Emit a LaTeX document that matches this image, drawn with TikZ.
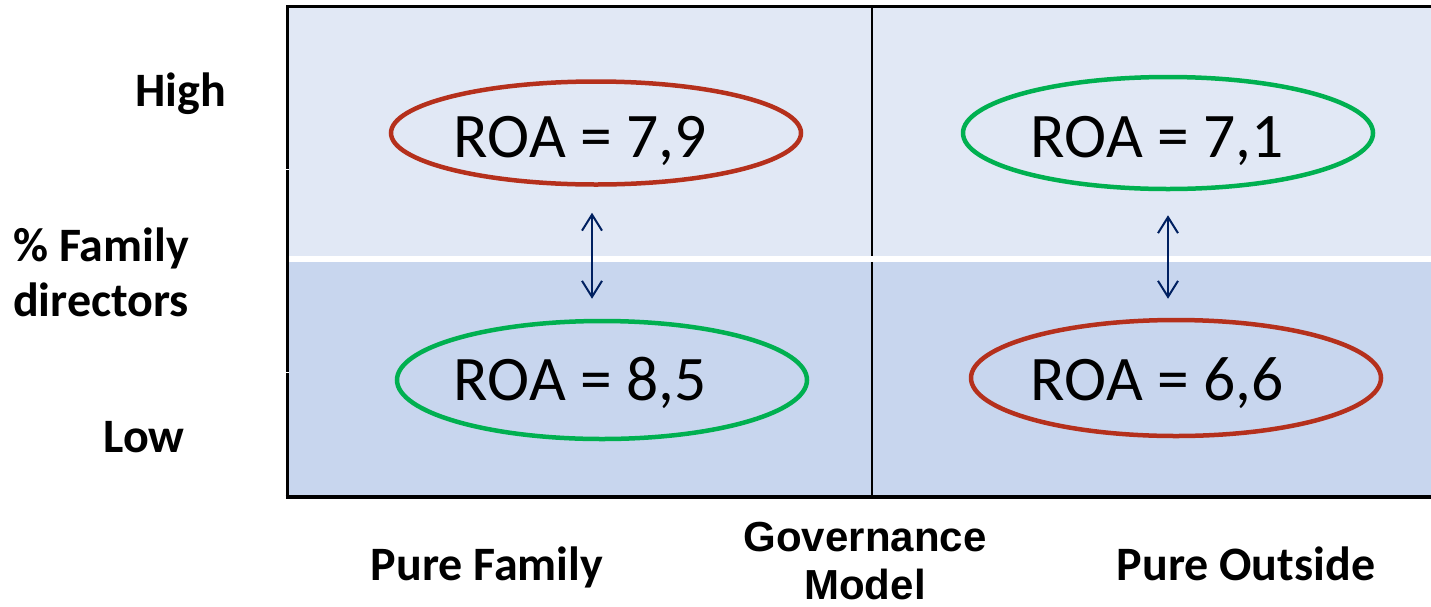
\documentclass[tikz,border=0pt]{standalone}
\usepackage{fontspec}
\setmainfont{Carlito}
\newfontfamily\arialb{Liberation Sans}[BoldFont={Liberation Sans Bold}]
\usetikzlibrary{arrows.meta}
\definecolor{topfill}{HTML}{E1E8F5}
\definecolor{botfill}{HTML}{C8D6EE}
\definecolor{ovred}{RGB}{181,48,28}
\definecolor{ovgreen}{HTML}{00B050}
\definecolor{navy}{HTML}{002060}
\tikzset{
  oval/.style={ellipse, draw, line width=4.5pt, inner sep=0pt},
  roa/.style={anchor=base, inner sep=0pt, font=\fontsize{63.5}{70}\selectfont},
  axlab/.style={anchor=base, inner sep=0pt, font=\fontsize{48}{54}\selectfont\bfseries},
  dbl/.style={navy, line width=2pt, {Straight Barb[length=16pt,width=20pt]}-{Straight Barb[length=16pt,width=20pt]}},
}
\usetikzlibrary{shapes.geometric}
\begin{document}
\begin{tikzpicture}[x=1pt,y=-1pt]
\useasboundingbox (0,0) rectangle (1431,606);
% quadrants
\fill[topfill] (287,7) rectangle (1431,256);
\fill[botfill] (287,262) rectangle (1431,497);
% axes
\draw[line width=3pt] (287,497) -- (287,6.5) -- (1431,6.5);
\draw[line width=3.5pt] (285.5,497) -- (1431,497);
\draw[line width=2.5pt] (872,6.5) -- (872,256);
\draw[line width=2.5pt] (872,262) -- (872,497);
\draw[white, line width=1pt] (270,169) -- (289,169);
\draw[white, line width=1pt] (270,372) -- (289,372);
% ellipses
\node[oval, draw=ovred, minimum width=410pt, minimum height=103pt] (e1) at (596,133) {};
\node[oval, draw=ovgreen, minimum width=410pt, minimum height=118pt] (e2) at (602,380) {};
\node[oval, draw=ovgreen, minimum width=410pt, minimum height=112pt] (e3) at (1168,133) {};
\node[oval, draw=ovred, minimum width=410pt, minimum height=116pt] (e4) at (1176,378) {};
\node[roa] (t1) at (580,157) {ROA = 7,9};
\node[roa] (t2) at (580,400) {ROA = 8,5};
\node[roa] (t3) at (1157,157) {ROA = 7,1};
\node[roa] (t4) at (1157,400) {ROA = 6,6};
% arrows
\draw[dbl] ([xshift=-4pt,yshift=-26pt]e1.south) -- ([xshift=-10pt,yshift=20pt]e2.north);
\draw[dbl] ([yshift=-24pt]e3.south) -- ([xshift=-8pt,yshift=19pt]e4.north);
% labels
\node[axlab] (high) at (181,106) {High};
\node[anchor=base, inner sep=0pt, align=center, font=\fontsize{48}{55}\selectfont\bfseries] (fam) at (101,316) {\% Family\\directors};
\node[axlab] (low) at (144,452) {Low};
\node[axlab] (pf) at (487,580) {Pure Family};
\node[axlab] (po) at (1246,580) {Pure Outside};
\node[anchor=base, inner sep=0pt, align=center, font=\arialb\fontsize{42}{48}\selectfont\bfseries] (gm) at (865,599) {Governance\\Model};
\end{tikzpicture}
\end{document}
